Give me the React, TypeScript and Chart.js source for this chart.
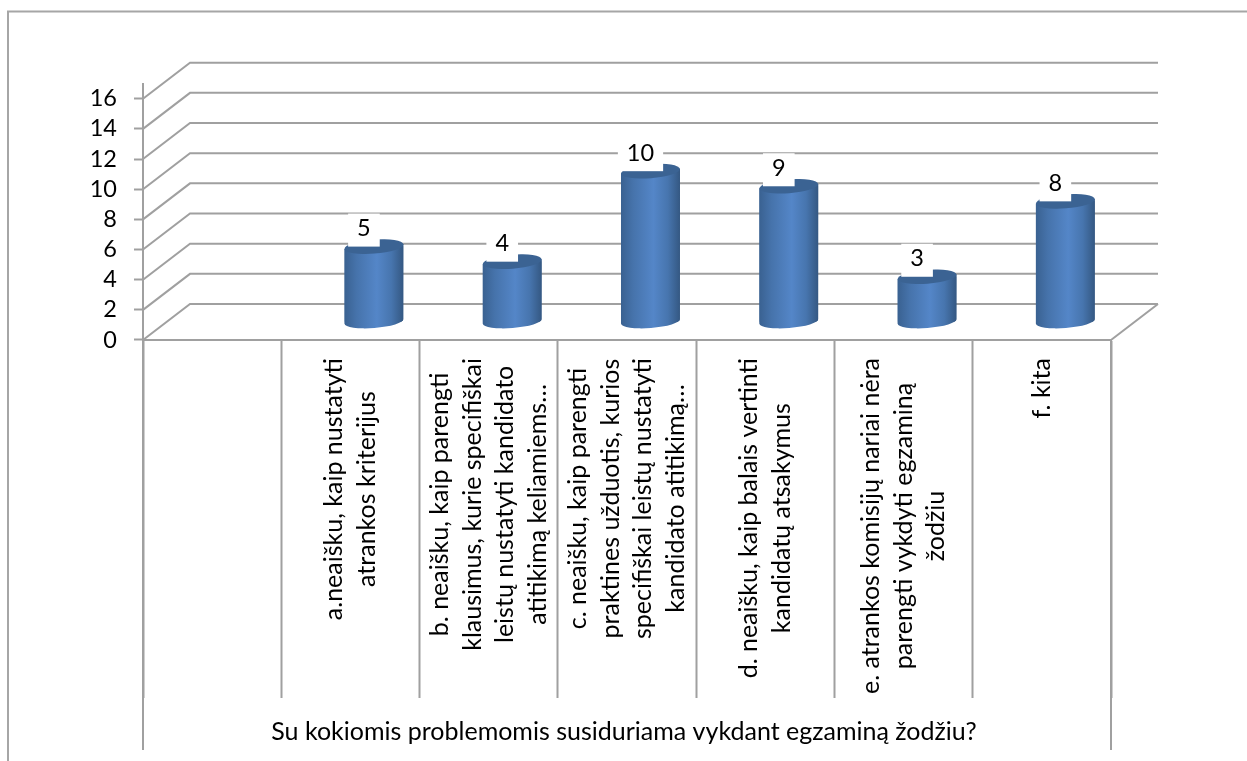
import React, { useEffect, useRef } from "react";
import { Chart, registerables } from "chart.js";

Chart.register(...registerables);

const categories: string[][] = [
  [],
  ["a.neaišku, kaip nustatyti", "atrankos kriterijus"],
  ["b. neaišku, kaip parengti", "klausimus, kurie specifiškai", "leistų nustatyti kandidato", "atitikimą keliamiems…"],
  ["c. neaišku, kaip parengti", "praktines užduotis, kurios", "specifiškai leistų nustatyti", "kandidato atitikimą…"],
  ["d. neaišku, kaip balais vertinti", "kandidatų atsakymus"],
  ["e. atrankos komisijų nariai nėra", "parengti vykdyti egzaminą", "žodžiu"],
  ["f. kita"],
];
const values: (number | null)[] = [null, 5, 4, 10, 9, 3, 8];
const axisTitle = "Su kokiomis problemomis susiduriama vykdant egzaminą žodžiu?";

const FONT = "Lato";
const FONT_SIZE = 25;
const NUM_SIZE = 23.5;
const DX = 47;
const DY = 36;
const BAR_W = 58;
const RX = 29.5;
const RY = 6.5;
const TILT = (-4.5 * Math.PI) / 180;
const GRID = "#a0a0a0";
const LINE = 2;

function bodyGradient(ctx: CanvasRenderingContext2D, cx: number) {
  const g = ctx.createLinearGradient(cx - BAR_W / 2, 0, cx + BAR_W / 2, 0);
  g.addColorStop(0, "#3a6292");
  g.addColorStop(0.2, "#4673ab");
  g.addColorStop(0.55, "#5486c8");
  g.addColorStop(0.8, "#4775ae");
  g.addColorStop(1, "#355984");
  return g;
}

function bodyPath(ctx: CanvasRenderingContext2D, cx: number, top: number, base: number) {
  const h = RX * Math.sin(-TILT);
  ctx.moveTo(cx - RX, top + h);
  ctx.lineTo(cx - RX, base + h);
  ctx.ellipse(cx, base, RX, RY, TILT, Math.PI, 0, true);
  ctx.lineTo(cx + RX, top - h);
  ctx.closePath();
}

const wallPlugin = {
  id: "wall",
  beforeDraw(chart: any) {
    const { ctx } = chart;
    ctx.save();
    ctx.fillStyle = "#ffffff";
    ctx.fillRect(0, 0, chart.width, chart.height);
    ctx.strokeStyle = "#a6a6a6";
    ctx.lineWidth = 2;
    ctx.beginPath();
    ctx.moveTo(8, chart.height);
    ctx.lineTo(8, 11.5);
    ctx.lineTo(chart.width, 11.5);
    ctx.stroke();
    ctx.restore();
  },
  beforeDatasetsDraw(chart: any) {
    const { ctx, chartArea: a, scales } = chart;
    const y = scales.y;
    ctx.save();
    ctx.strokeStyle = GRID;
    ctx.lineWidth = LINE;
    ctx.beginPath();
    y.ticks.forEach((t: any) => {
      const py = y.getPixelForValue(t.value);
      ctx.moveTo(a.left, py);
      ctx.lineTo(a.left + DX, py - DY);
      ctx.lineTo(a.right + DX, py - DY);
    });
    ctx.moveTo(a.right, a.bottom);
    ctx.lineTo(a.right + DX, a.bottom - DY);
    ctx.moveTo(a.left, 83);
    ctx.lineTo(a.left, 750);
    ctx.moveTo(a.right, a.bottom);
    ctx.lineTo(a.right, 750);
    ctx.stroke();
    ctx.restore();

    // the bars sit half way into the floor's depth
    ctx.save();
    ctx.translate(DX / 2, -DY / 2);
    const meta = chart.getDatasetMeta(0);
    meta.data.forEach((el: any, i: number) => {
      if (values[i] == null) return;
      ctx.fillStyle = bodyGradient(ctx, el.x);
      ctx.beginPath();
      bodyPath(ctx, el.x, el.y, el.base);
      ctx.fill();
    });
    ctx.beginPath();
    meta.data.forEach((el: any, i: number) => {
      if (values[i] == null) return;
      bodyPath(ctx, el.x, el.y, el.base);
    });
    ctx.clip();
  },
  afterDatasetsDraw(chart: any) {
    const { ctx, scales } = chart;
    const meta = chart.getDatasetMeta(0);
    ctx.restore();

    ctx.save();
    ctx.translate(DX / 2, -DY / 2);
    meta.data.forEach((el: any, i: number) => {
      if (values[i] == null) return;
      ctx.fillStyle = "#3b6393";
      ctx.beginPath();
      ctx.ellipse(el.x, el.y, RX, RY + 0.5, TILT, 0, Math.PI * 2);
      ctx.fill();
    });
    ctx.restore();

    ctx.save();
    ctx.textAlign = "center";
    ctx.textBaseline = "middle";
    ctx.font = `${NUM_SIZE}px ${FONT}`;
    meta.data.forEach((el: any, i: number) => {
      const v = values[i];
      if (v == null) return;
      const s = String(v);
      const w = ctx.measureText(s).width + 18;
      const cx = el.x + DX / 2 - 10;
      const bottom = el.y - DY / 2;
      ctx.fillStyle = "#ffffff";
      ctx.fillRect(cx - w / 2, bottom - 33, w, 33);
      ctx.fillStyle = "#000000";
      ctx.fillText(s, cx, bottom - 18);
    });

    // category labels: centred blocks whose upper end hangs under the floor
    ctx.font = `${FONT_SIZE}px ${FONT}`;
    const x = scales.x;
    categories.forEach((lines, i) => {
      if (!lines.length) return;
      const maxW = Math.max(...lines.map((l) => ctx.measureText(l).width));
      ctx.save();
      ctx.translate(x.getPixelForTick(i), 358);
      ctx.rotate(-Math.PI / 2);
      lines.forEach((l, k) => {
        ctx.fillText(l, -maxW / 2, (k - (lines.length - 1) / 2) * 32.5);
      });
      ctx.restore();
    });

    // axis title, slightly left of the plot's centre as in the original
    ctx.fillText(axisTitle, 624, 732);
    ctx.restore();
  },
};

export default function App() {
  const ref = useRef<HTMLCanvasElement>(null);
  useEffect(() => {
    document.body.style.margin = "0";
    const chart = new Chart(ref.current as HTMLCanvasElement, {
      type: "bar",
      data: {
        labels: categories.map((c) => c.join(" ")),
        datasets: [
          {
            data: values,
            barThickness: BAR_W,
            backgroundColor: (c: any) => {
              const px = c.chart.scales.x?.getPixelForValue(c.dataIndex);
              return Number.isFinite(px) ? bodyGradient(c.chart.ctx, px) : "#4f81bd";
            },
            borderWidth: 0,
          },
        ],
      } as any,
      plugins: [wallPlugin as any],
      options: {
        responsive: false,
        animation: false,
        layout: { padding: { top: 98.7, right: 136, left: 0, bottom: 0 } },
        plugins: { legend: { display: false }, tooltip: { enabled: false } },
        scales: {
          x: {
            afterFit: (s: any) => {
              s.height = 421;
            },
            border: { display: true, color: GRID, width: LINE },
            grid: {
              offset: true,
              drawOnChartArea: false,
              drawTicks: true,
              tickLength: 358,
              tickWidth: LINE,
              tickColor: GRID,
            },
            ticks: { display: false },
          },
          y: {
            min: 0,
            max: 16,
            afterFit: (s: any) => {
              s.width = 143;
            },
            border: { display: true, color: GRID, width: LINE },
            grid: {
              drawOnChartArea: false,
              drawTicks: true,
              tickLength: 9,
              tickWidth: LINE,
              tickColor: GRID,
            },
            ticks: {
              stepSize: 2,
              autoSkip: false,
              padding: 17,
              color: "#000000",
              font: { family: FONT, size: NUM_SIZE },
            },
          },
        },
      },
    });
    return () => chart.destroy();
  }, []);
  return (
    <div style={{ position: "absolute", left: 0, top: 0, width: 1247, height: 761, overflow: "hidden" }}>
      <canvas ref={ref} width={1247} height={761} style={{ display: "block" }} />
    </div>
  );
}
